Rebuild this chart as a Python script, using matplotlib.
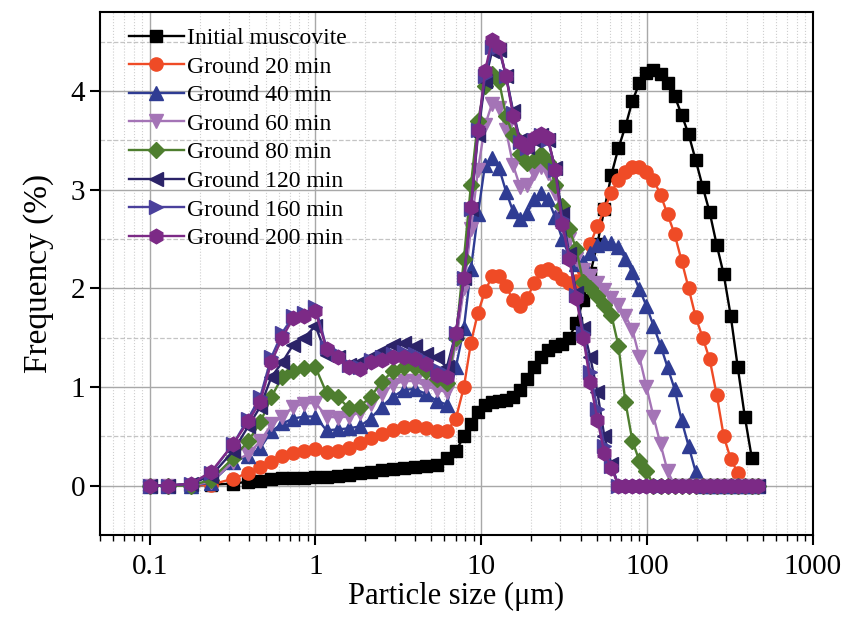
import numpy as np
import matplotlib
matplotlib.use('Agg')
import matplotlib.pyplot as plt
from matplotlib.ticker import FixedLocator, MultipleLocator, LogLocator, NullFormatter

# ------------------------------------------------------------
# data (frequency %, laser size grid in um)
# ------------------------------------------------------------
size_um = [0.1, 0.129, 0.178, 0.235, 0.319, 0.393, 0.465, 0.542, 0.631, 0.736,
           0.858, 1.0, 1.166, 1.359, 1.584, 1.846, 2.151, 2.507, 2.923, 3.407,
           3.972, 4.629, 5.395, 6.201, 7.031, 7.86, 8.666, 9.55, 10.53, 11.61,
           12.80, 14.11, 15.55, 17.15, 18.90, 20.84, 22.97, 25.32, 27.92, 30.77,
           33.93, 37.40, 41.23, 45.46, 50.12, 55.25, 60.91, 67.14, 74.02, 81.61,
           89.95, 99.17, 109.3, 120.5, 132.9, 146.5, 161.5, 178.1, 196.3, 216.4,
           238.5, 263.0, 289.9, 319.6, 352.3, 388.4, 428.2, 465.0]

initial = [0, 0, 0, 0.01, 0.02, 0.04, 0.05, 0.07, 0.075, 0.08,
           0.08, 0.085, 0.09, 0.1, 0.11, 0.13, 0.14, 0.16, 0.17, 0.18,
           0.19, 0.2, 0.21, 0.28, 0.35, 0.5, 0.62, 0.75, 0.82, 0.85,
           0.86, 0.87, 0.9, 0.97, 1.08, 1.2, 1.3, 1.37, 1.41, 1.44,
           1.5, 1.65, 1.88, 2.15, 2.45, 2.8, 3.15, 3.42, 3.64, 3.9,
           4.08, 4.18, 4.21, 4.17, 4.08, 3.95, 3.76, 3.56, 3.3, 3.03,
           2.77, 2.44, 2.14, 1.72, 1.2, 0.7, 0.28, np.nan]

g20 = [0, 0, 0, 0.01, 0.07, 0.13, 0.19, 0.24, 0.3, 0.33,
       0.35, 0.37, 0.34, 0.35, 0.38, 0.43, 0.48, 0.52, 0.56, 0.59,
       0.6, 0.58, 0.55, 0.55, 0.68, 1.0, 1.45, 1.75, 1.97, 2.12,
       2.12, 2.02, 1.88, 1.82, 1.9, 2.05, 2.18, 2.2, 2.15, 2.09,
       2.05, 2.07, 2.2, 2.45, 2.63, 2.8, 2.97, 3.1, 3.18, 3.23,
       3.23, 3.18, 3.1, 2.95, 2.75, 2.55, 2.28, 2.0, 1.71, 1.5,
       1.28, 0.92, 0.5, 0.27, 0.13, 0, 0, 0]

g40 = [0, 0, 0, 0.03, 0.24, 0.3, 0.38, 0.55, 0.63, 0.68,
       0.7, 0.7, 0.56, 0.57, 0.58, 0.6, 0.68, 0.8, 0.9, 0.97,
       0.98, 0.93, 0.86, 0.82, 1.2, 1.6, 2.2, 2.75, 3.25, 3.32,
       3.22, 2.98, 2.78, 2.7, 2.76, 2.9, 2.97, 2.9, 2.72, 2.5,
       2.33, 2.25, 2.27, 2.36, 2.44, 2.47, 2.46, 2.42, 2.3, 2.16,
       1.99, 1.82, 1.62, 1.42, 1.2, 0.98, 0.66, 0.4, 0.14, 0,
       0, 0, 0, 0, 0, 0, 0, 0]

g60 = [0, 0, 0, 0.04, 0.24, 0.32, 0.45, 0.62, 0.7, 0.8,
       0.83, 0.84, 0.7, 0.69, 0.7, 0.74, 0.83, 0.93, 1.02, 1.06,
       1.06, 1.01, 0.97, 0.95, 1.45, 2.0, 2.6, 3.2, 3.65, 3.87,
       3.83, 3.6, 3.25, 3.03, 3.05, 3.17, 3.23, 3.17, 2.97, 2.75,
       2.5, 2.3, 2.19, 2.12, 2.05, 1.98, 1.9, 1.83, 1.72, 1.58,
       1.3, 1.0, 0.7, 0.42, 0.15, 0, 0, 0, 0, 0,
       0, 0, 0, 0, 0, 0, 0, 0]

g80 = [0, 0, 0, 0.06, 0.28, 0.45, 0.64, 0.9, 1.1, 1.16,
       1.19, 1.2, 0.94, 0.9, 0.79, 0.8, 0.9, 1.05, 1.16, 1.2,
       1.2, 1.16, 1.08, 1.04, 1.5, 2.3, 3.05, 3.7, 4.05, 4.17,
       4.1, 3.75, 3.55, 3.36, 3.27, 3.3, 3.36, 3.28, 3.05, 2.83,
       2.6, 2.4, 2.06, 2.0, 1.92, 1.83, 1.73, 1.42, 0.85, 0.45,
       0.25, 0.15, 0, 0, 0, 0, 0, 0, 0, 0,
       0, 0, 0, 0, 0, 0, 0, 0]

g120 = [0, 0, 0.02, 0.1, 0.35, 0.6, 0.8, 1.1, 1.25, 1.43,
        1.5, 1.62, 1.32, 1.3, 1.22, 1.25, 1.3, 1.36, 1.43, 1.45,
        1.42, 1.33, 1.3, 1.2, 1.55, 2.1, 2.8, 3.55, 4.1, 4.4,
        4.42, 4.15, 3.8, 3.5, 3.43, 3.5, 3.55, 3.5, 3.22, 2.75,
        2.35, 1.95, 1.6, 1.3, 0.95, 0.5, 0.22, 0, 0, 0,
        0, 0, 0, 0, 0, 0, 0, 0, 0, 0,
        0, 0, 0, 0, 0, 0, 0, 0]

g160 = [0, 0, 0.02, 0.13, 0.42, 0.68, 0.9, 1.3, 1.55, 1.72,
        1.75, 1.81, 1.4, 1.33, 1.22, 1.2, 1.27, 1.3, 1.33, 1.35,
        1.33, 1.27, 1.18, 1.13, 1.55, 2.1, 2.8, 3.6, 4.15, 4.45,
        4.45, 4.15, 3.78, 3.48, 3.42, 3.5, 3.55, 3.5, 3.2, 2.7,
        2.33, 1.93, 1.55, 1.15, 0.78, 0.4, 0.2, 0, 0, 0,
        0, 0, 0, 0, 0, 0, 0, 0, 0, 0,
        0, 0, 0, 0, 0, 0, 0, 0]

g200 = [0, 0, 0.02, 0.14, 0.42, 0.65, 0.85, 1.25, 1.5, 1.7,
        1.72, 1.77, 1.38, 1.3, 1.2, 1.18, 1.25, 1.27, 1.3, 1.3,
        1.28, 1.23, 1.12, 1.1, 1.55, 2.1, 2.82, 3.6, 4.2, 4.52,
        4.45, 4.15, 3.75, 3.48, 3.43, 3.52, 3.56, 3.52, 3.2, 2.65,
        2.3, 1.9, 1.5, 1.05, 0.67, 0.33, 0.18, 0, 0, 0,
        0, 0, 0, 0, 0, 0, 0, 0, 0, 0,
        0, 0, 0, 0, 0, 0, 0, 0]

labels = ['Initial muscovite', 'Ground 20 min', 'Ground 40 min', 'Ground 60 min',
          'Ground 80 min', 'Ground 120 min', 'Ground 160 min', 'Ground 200 min']
colors = ['#000000', '#EF4B26', '#2F3C93', '#A474B6',
          '#4E7E2F', '#2B2368', '#4A409C', '#7C2A86']
markers = ['s', 'o', '^', 'v', 'D', '<', '>', 'h']
msizes = [8, 9.5, 9.5, 9.5, 8, 9.5, 9.5, 10.5]

# ------------------------------------------------------------
plt.rcParams['font.family'] = ['Liberation Serif', 'DejaVu Serif']

fig = plt.figure(figsize=(8.45, 6.17), dpi=100)
ax = fig.add_axes([0.118, 0.133, 0.844, 0.8475])

data = [initial, g20, g40, g60, g80, g120, g160, g200]
x = np.array(size_um)
for y, lab, c, m, ms in zip(data, labels, colors, markers, msizes):
    ax.plot(x, np.array(y, dtype=float), color=c, marker=m, markersize=ms,
            markeredgecolor=c, lw=1.7, label=lab)

ax.set_xscale('log')
ax.set_xlim(0.05, 1000)
ax.set_ylim(-0.5, 4.8)

ax.xaxis.set_major_locator(FixedLocator([0.1, 1, 10, 100, 1000]))
ax.set_xticklabels(['0.1', '1', '10', '100', '1000'])
ax.xaxis.set_minor_locator(LogLocator(base=10, subs=np.arange(2, 10)))
ax.xaxis.set_minor_formatter(NullFormatter())
ax.yaxis.set_major_locator(FixedLocator([0, 1, 2, 3, 4]))
ax.yaxis.set_minor_locator(MultipleLocator(0.5))

ax.set_axisbelow(True)
ax.grid(which='major', color='#a8a8a8', lw=1.0, ls='-')
ax.xaxis.grid(which='minor', color='#cfcfcf', lw=0.8, ls=':')
ax.yaxis.grid(which='minor', color='#c4c4c4', lw=0.9, ls='--')

ax.tick_params(which='major', direction='out', length=7, width=1.5,
               labelsize=21, top=False, right=False)
ax.tick_params(axis='x', which='major', pad=7)
ax.tick_params(which='minor', direction='out', length=4, width=1.0,
               top=False, right=False)
ax.tick_params(axis='y', which='minor', length=0)
for sp in ax.spines.values():
    sp.set_linewidth(1.5)
    sp.set_color('black')

ax.set_xlabel('Particle size (μm)', fontsize=22, labelpad=1)
ax.set_ylabel('Frequency (%)', fontsize=24, labelpad=12)

ax.legend(loc='upper left', bbox_to_anchor=(0.02, 1.0), frameon=False,
          fontsize=17, handlelength=2.3, handletextpad=0.15, labelspacing=0.3,
          borderaxespad=0.25)

fig.savefig('out.png', dpi=100)
